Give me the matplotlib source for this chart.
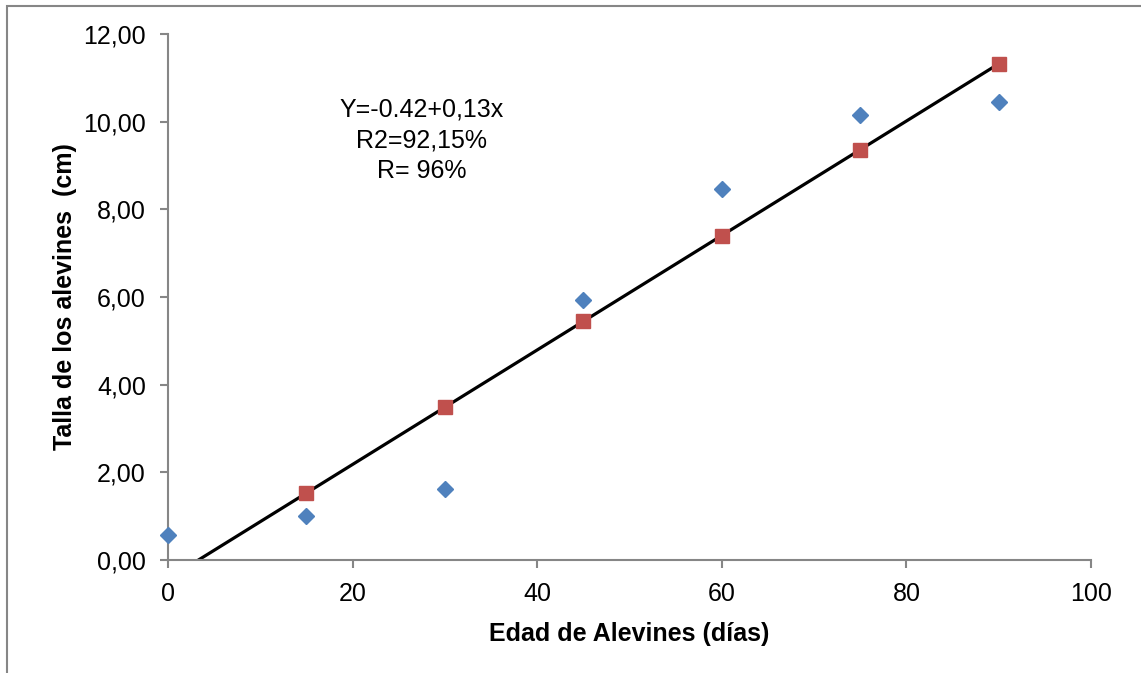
import numpy as np
import matplotlib
matplotlib.use("Agg")
import matplotlib.pyplot as plt
from matplotlib.patches import Rectangle

plt.rcParams['font.family'] = ['Liberation Sans', 'DejaVu Sans']

# observed sizes (blue diamonds)
edad_obs = [0, 15, 30, 45, 60, 75, 90]
talla_obs = [0.57, 1.00, 1.62, 5.93, 8.46, 10.15, 10.45]

# estimated sizes (red squares)
edad_est = [15, 30, 45, 60, 75, 90]
talla_est = [1.53, 3.49, 5.45, 7.39, 9.35, 11.32]

# fitted line ends
linea_x = [3.3, 90]
linea_y = [0.0, 11.32]

x_ticks = [0, 20, 40, 60, 80, 100]
y_ticks = [0, 2, 4, 6, 8, 10, 12]

eje_gris = "#868686"

fig = plt.figure(figsize=(11.41, 6.73), dpi=100)
ax = fig.add_axes([168 / 1141, 1 - 560 / 673, 923 / 1141, 526 / 673])

# outer chart border
fig.patches.append(Rectangle((7 / 1141, -0.1), 1.2, 1 - 6 / 673 + 0.1,
                             transform=fig.transFigure, fill=False,
                             edgecolor=eje_gris, linewidth=1.5))

ax.plot(linea_x, linea_y, color="black", linewidth=2.3, zorder=2)
ax.plot(edad_obs, talla_obs, linestyle="none", marker="D", markersize=8.5,
        color="#4F81BD", zorder=3, clip_on=False)
ax.plot(edad_est, talla_est, linestyle="none", marker="s", markersize=9.5,
        color="#C0504D", markeredgecolor="#C0504D", zorder=4, clip_on=False)

ax.set_xlim(0, 100)
ax.set_ylim(0, 12)
ax.set_xticks(x_ticks)
ax.set_yticks(y_ticks)
ax.set_yticklabels([("%.2f" % v).replace(".", ",") for v in y_ticks])

for s in ["top", "right"]:
    ax.spines[s].set_visible(False)
for s in ["left", "bottom"]:
    ax.spines[s].set_color(eje_gris)
    ax.spines[s].set_linewidth(1.5)
ax.tick_params(axis="both", direction="out", length=6, width=1.5,
               color=eje_gris, labelsize=18, labelcolor="black")
ax.tick_params(axis="y", pad=10)
ax.tick_params(axis="x", pad=10)

ax.set_xlabel("Edad de Alevines (días)", fontsize=18, fontweight="bold", labelpad=11)
ax.set_ylabel("Talla de los alevines  (cm)", fontsize=18, fontweight="bold", labelpad=4)

ax.text(27.5, 10.55, "Y=-0.42+0,13x\nR2=92,15%\nR= 96%", ha="center", va="top",
        fontsize=18, linespacing=1.35)

fig.savefig("out.png", dpi=100)
